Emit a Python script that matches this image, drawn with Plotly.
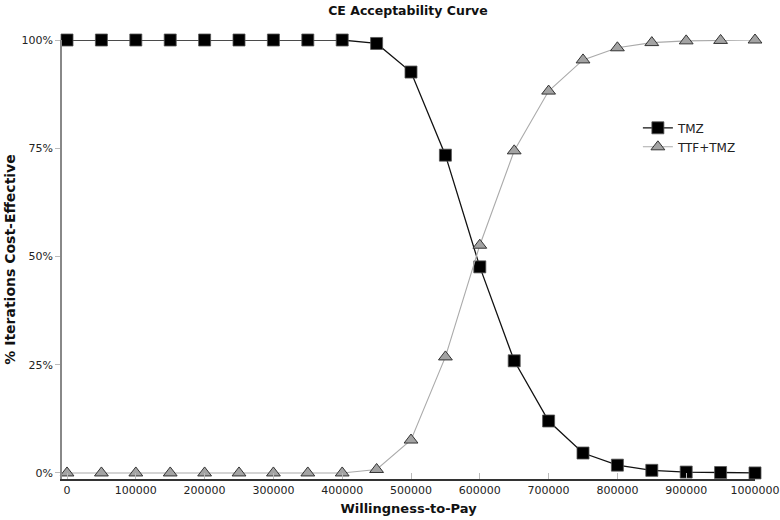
import plotly.graph_objects as go

wtp = [0, 50000, 100000, 150000, 200000, 250000, 300000, 350000, 400000, 450000,
       500000, 550000, 600000, 650000, 700000, 750000, 800000, 850000, 900000, 950000, 1000000]
tmz = [100, 100, 100, 100, 100, 100, 100, 100, 100, 99.2,
       92.6, 73.4, 47.6, 25.9, 12.0, 4.6, 1.8, 0.6, 0.2, 0.1, 0.0]
ttf_tmz = [0, 0, 0, 0, 0, 0, 0, 0, 0, 0.8,
           7.6, 26.8, 52.6, 74.4, 88.2, 95.4, 98.2, 99.4, 99.8, 99.9, 100]
y_ticks = [0, 25, 50, 75, 100]
y_tick_text = ["0%", "25%", "50%", "75%", "100%"]
x_ticks = [0, 100000, 200000, 300000, 400000, 500000, 600000, 700000, 800000, 900000, 1000000]

font = "DejaVu Sans, Verdana, sans-serif"

fig = go.Figure()
fig.add_trace(go.Scatter(
    x=wtp, y=tmz, name="TMZ", mode="lines+markers",
    line=dict(color="#111111", width=1.3),
    marker=dict(symbol="square", size=12, color="#000000", line=dict(color="#555555", width=0.8)),
    cliponaxis=False,
))
fig.add_trace(go.Scatter(
    x=wtp, y=ttf_tmz, name="TTF+TMZ", mode="lines+markers",
    line=dict(color="#aaaaaa", width=1.1),
    marker=dict(symbol="triangle-up", size=12, color="#a3a3a3", line=dict(color="#333333", width=1)),
    cliponaxis=False,
))

fig.update_layout(
    width=780, height=520,
    margin=dict(l=62, r=25, t=40, b=41, autoexpand=False),
    paper_bgcolor="white", plot_bgcolor="white",
    font=dict(family=font, size=11, color="#222222"),
    title=dict(text="<b>CE Acceptability Curve</b>", x=0.523, xanchor="center", y=0.988, yanchor="top",
               font=dict(family=font, size=12.5, color="#111111")),
    legend=dict(x=0.831, y=0.833, xanchor="left", yanchor="top", bgcolor="rgba(0,0,0,0)",
                font=dict(family=font, size=12, color="#222222"), itemwidth=30),
    showlegend=True,
)
fig.update_xaxes(
    range=[-7300, 1000000], tickvals=x_ticks, ticktext=[str(v) for v in x_ticks],
    showgrid=False, zeroline=False, automargin=False,
    showline=True, linecolor="#333333", linewidth=1.5,
    ticks="inside", ticklen=6, tickcolor="#bbbbbb",
    title=dict(text="<b>Willingness-to-Pay</b>", font=dict(family=font, size=13, color="#111111"), standoff=8),
)
fig.update_yaxes(
    range=[-1.4, 100], tickvals=y_ticks, ticktext=y_tick_text,
    showgrid=False, zeroline=False, automargin=False,
    showline=True, linecolor="#888888", linewidth=1.5,
    ticks="outside", ticklen=5, tickcolor="#bbbbbb",
    title=dict(text="<b>% Iterations Cost-Effective</b>", font=dict(family=font, size=14, color="#111111"), standoff=3),
)

# drop the browser's default 8px body margin so the figure sits at the page corner
fig.write_html("out.html", config={"displayModeBar": False},
               post_script="document.body.style.margin='0';")
